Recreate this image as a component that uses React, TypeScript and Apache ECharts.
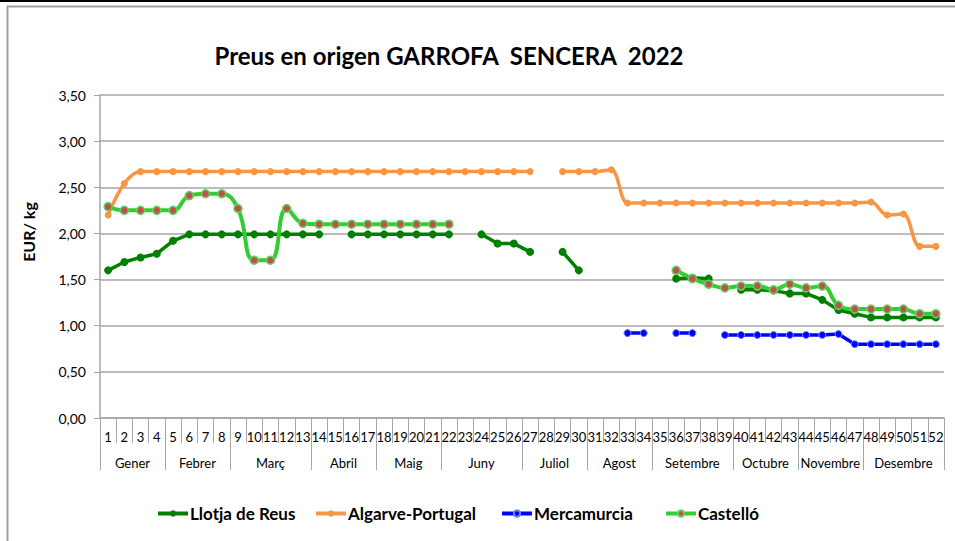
import React, { useEffect, useRef } from "react";
import * as echarts from "echarts";

const weekLabels = [
  "1","2","3","4","5","6","7","8","9","10","11","12","13","14","15","16","17","18","19","20","21","22","23","24","25","26",
  "27","28","29","30","31","32","33","34","35","36","37","38","39","40","41","42","43","44","45","46","47","48","49","50","51","52",
];

const monthNames = ["Gener","Febrer","Març","Abril","Maig","Juny","Juliol","Agost","Setembre","Octubre","Novembre","Desembre"];
const monthWeekCounts = [4, 4, 5, 4, 4, 5, 4, 4, 5, 4, 4, 5];

const yTicks = { min: 0, max: 3.5, interval: 0.5 };

const llotja = [
  1.60, 1.69, 1.74, 1.78, 1.92, 1.99, 1.99, 1.99, 1.99, 1.99, 1.99, 1.99, 1.99, 1.99, null, 1.99, 1.99, 1.99, 1.99, 1.99, 1.99, 1.99, null, 1.99, 1.89, 1.89,
  1.80, null, 1.80, 1.60, null, null, null, null, null, 1.51, 1.52, 1.51, null, 1.39, 1.39, 1.38, 1.35, 1.35, 1.28, 1.17, 1.13, 1.09, 1.09, 1.09, 1.09, 1.09,
];

const algarve = [
  2.20, 2.54, 2.67, 2.67, 2.67, 2.67, 2.67, 2.67, 2.67, 2.67, 2.67, 2.67, 2.67, 2.67, 2.67, 2.67, 2.67, 2.67, 2.67, 2.67, 2.67, 2.67, 2.67, 2.67, 2.67, 2.67,
  2.67, null, 2.67, 2.67, 2.67, 2.69, 2.33, 2.33, 2.33, 2.33, 2.33, 2.33, 2.33, 2.33, 2.33, 2.33, 2.33, 2.33, 2.33, 2.33, 2.33, 2.34, 2.20, 2.21, 1.86, 1.86,
];

const mercamurcia = [
  null, null, null, null, null, null, null, null, null, null, null, null, null, null, null, null, null, null, null, null, null, null, null, null, null, null,
  null, null, null, null, null, null, 0.92, 0.92, null, 0.92, 0.92, null, 0.90, 0.90, 0.90, 0.90, 0.90, 0.90, 0.90, 0.91, 0.80, 0.80, 0.80, 0.80, 0.80, 0.80,
];

const castello = [
  2.29, 2.25, 2.25, 2.25, 2.25, 2.41, 2.43, 2.43, 2.27, 1.71, 1.71, 2.27, 2.11, 2.10, 2.10, 2.10, 2.10, 2.10, 2.10, 2.10, 2.10, 2.10, null, null, null, null,
  null, null, null, null, null, null, null, null, null, 1.60, 1.51, 1.45, 1.41, 1.43, 1.43, 1.39, 1.45, 1.41, 1.43, 1.22, 1.18, 1.18, 1.18, 1.18, 1.13, 1.13,
];

const seriesNames = ["Llotja de Reus", "Algarve-Portugal", "Mercamurcia", "Castelló"];
const seriesColors = ["#008000", "#F79646", "#0000FF", "#33CC33"];

export default function App() {
  const ref = useRef<HTMLDivElement>(null);

  useEffect(() => {
    if (!ref.current) return;
    const chart = echarts.init(ref.current, undefined, { renderer: "svg" });

    const totalHalf = weekLabels.length * 2;
    const halfSlots: string[] = [];
    for (let i = 0; i <= totalHalf; i++) halfSlots.push(String(i));
    const boundaries = new Set<number>();
    const centers = new Map<number, string>();
    let start = 0;
    boundaries.add(0);
    monthWeekCounts.forEach((c, i) => {
      const end = start + c;
      boundaries.add(end * 2);
      centers.set(start + end, monthNames[i]);
      start = end;
    });

    const font = "Lato, 'Open Sans', sans-serif";
    const gray = "#A6A6A6";

    const option: any = {
      animation: false,
      backgroundColor: "#ffffff",
      title: {
        text: "Preus en origen GARROFA  SENCERA  2022",
        left: 444,
        top: 38,
        textAlign: "center",
        textStyle: { fontFamily: font, fontWeight: "bold", fontSize: 24, color: "#000" },
      },
      graphic: [
        { type: "line", shape: { x1: 0, y1: 1, x2: 955, y2: 1 }, style: { stroke: "#000", lineWidth: 2 }, silent: true },
        { type: "rect", shape: { x: 7.5, y: 6.5, width: 1000, height: 600 }, style: { fill: "none", stroke: "#A0A0A0", lineWidth: 2 }, silent: true },
        {
          type: "text",
          x: 28,
          y: 232,
          rotation: Math.PI / 2,
          style: {
            text: "EUR/ kg",
            fontFamily: font,
            fontWeight: "bold",
            fontSize: 16,
            fill: "#000",
            align: "center",
            verticalAlign: "middle",
          },
          silent: true,
        },
      ],
      legend: seriesNames.map((n, i) => ({
        data: [n],
        left: [156, 314, 500, 664][i],
        top: 505,
        padding: 0,
        itemWidth: 30,
        itemHeight: 8,
        itemGap: 0,
        lineStyle: { width: 4, color: seriesColors[i] },
        textStyle: { fontFamily: font, fontWeight: "bold", fontSize: 17, color: "#000", padding: [0, 0, 0, -3] },
      })),
      grid: { left: 100, right: 11, top: 95, bottom: 123 },
      xAxis: [
        {
          type: "category",
          data: weekLabels,
          boundaryGap: true,
          axisLine: { show: true, lineStyle: { color: gray, width: 1.5 } },
          axisTick: { show: true, interval: 0, length: 25, lineStyle: { color: gray, width: 1 } },
          axisLabel: { interval: 0, margin: 12, fontFamily: font, fontSize: 13, color: "#000" },
          splitLine: { show: false },
        },
        {
          type: "category",
          data: halfSlots,
          boundaryGap: false,
          position: "bottom",
          axisLine: { show: false },
          axisTick: {
            show: true,
            interval: (idx: number) => boundaries.has(idx),
            length: 52,
            lineStyle: { color: gray, width: 1 },
          },
          axisLabel: {
            interval: (idx: number) => centers.has(idx),
            formatter: (_v: string, idx: number) => centers.get(idx) || "",
            margin: 38,
            fontFamily: font,
            fontSize: 13,
            color: "#000",
          },
          splitLine: { show: false },
        },
      ],
      yAxis: {
        type: "value",
        min: yTicks.min,
        max: yTicks.max,
        interval: yTicks.interval,
        axisLine: { show: true, lineStyle: { color: gray, width: 1.5 } },
        axisTick: { show: true, length: 6, lineStyle: { color: gray } },
        axisLabel: {
          margin: 14,
          fontFamily: font,
          fontSize: 14,
          color: "#000",
          formatter: (v: number) => v.toFixed(2).replace(".", ","),
        },
        splitLine: { show: true, lineStyle: { color: gray, width: 1.5 } },
      },
      series: [
        {
          name: seriesNames[0],
          type: "line",
          data: llotja,
          symbol: "circle",
          symbolSize: 8,
          lineStyle: { color: seriesColors[0], width: 3.5 },
          itemStyle: { color: seriesColors[0] },
        },
        {
          name: seriesNames[1],
          type: "line",
          data: algarve,
          smooth: 0.35,
          symbol: "circle",
          symbolSize: 7,
          lineStyle: { color: seriesColors[1], width: 3.5 },
          itemStyle: { color: seriesColors[1] },
        },
        {
          name: seriesNames[2],
          type: "line",
          data: mercamurcia,
          symbol: "circle",
          symbolSize: 7,
          lineStyle: { color: seriesColors[2], width: 3.5 },
          itemStyle: { color: seriesColors[2], borderColor: "#6A8CFF", borderWidth: 1 },
        },
        {
          name: seriesNames[3],
          type: "line",
          data: castello,
          smooth: 0.45,
          symbol: "circle",
          symbolSize: 8,
          lineStyle: { color: seriesColors[3], width: 4 },
          itemStyle: { color: "#C0504D", borderColor: "#5FD35F", borderWidth: 1.5 },
        },
      ],
    };

    chart.setOption(option);
    return () => chart.dispose();
  }, []);

  return (
    <div
      ref={ref}
      style={{ position: "fixed", left: 0, top: 0, width: 955, height: 541, background: "#fff" }}
    />
  );
}
